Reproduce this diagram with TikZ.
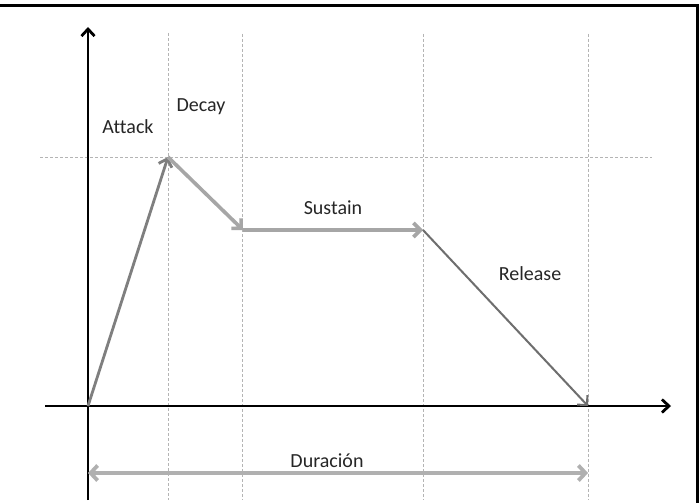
\documentclass[tikz,border=0pt]{standalone}
\usepackage{fontspec}
\setmainfont{Carlito}[Ligatures=NoCommon]
\usetikzlibrary{arrows.meta}
\definecolor{gridc}{HTML}{B4B4B4}
\definecolor{attc}{HTML}{7F7F7F}
\definecolor{decc}{HTML}{A6A6A6}
\definecolor{relc}{HTML}{6E6E6E}
\definecolor{durc}{HTML}{B0B0B0}
\begin{document}
\begin{tikzpicture}[x=1pt,y=-1pt,
  gridline/.style={draw=gridc,line width=0.8pt,dash pattern=on 3pt off 2pt},
  axis/.style={draw=black,line width=2.8pt,-{Straight Barb[length=7pt,width=13pt,line width=2.8pt]}},
  seg/.style={line width=#1,-{Straight Barb[length=7pt,width=14pt]}},
  lbl/.style={font=\fontsize{20}{21}\selectfont,text=black!85,inner sep=0pt}]
\useasboundingbox (0,0) rectangle (700,503);
\fill[white] (0,0) rectangle (700,503);
% frame
\draw[line width=3pt] (0,6) -- (697.5,6) -- (697.5,503);
% coordinates
\coordinate (O) at (88,406);
\coordinate (P) at (168,157);
\coordinate (D) at (243,230);
\coordinate (S) at (423,230);
\coordinate (R) at (588,406);
\coordinate (yb) at (88,500);
\coordinate (yt) at (88,27);
\coordinate (xl) at (45,406);
\coordinate (xr) at (671,406);
\coordinate (dl) at (88,473);
\coordinate (dr) at (588,473);
% grid
\draw[gridline] (168,33) -- (168,500);
\draw[gridline] (242,34) -- (242,500);
\draw[gridline] (423,34) -- (423,500);
\draw[gridline] (588,34) -- (588,500);
\draw[gridline] (40,157) -- (652,157);
% axes
\draw[axis] (yb) -- (yt);
\draw[axis] (xl) -- (xr);
% envelope
\draw[attc,seg=2.8pt] (O) -- (P);
\draw[decc,seg=3.6pt] (P) -- (D);
\draw[decc,seg=3.6pt] (D) -- (S);
\draw[relc,seg=2pt] (S) -- (R);
\draw[durc,line width=3.8pt,{Straight Barb[length=7pt,width=15pt]}-{Straight Barb[length=7pt,width=15pt]}] (dl) -- (dr);
% labels
\node[lbl] (att) at (128,127) {Attack};
\node[lbl] (dec) at (201,107) {Decay};
\node[lbl] (sus) at (333,208) {Sustain};
\node[lbl] (rel) at (530,274) {Release};
\node[lbl] (dur) at (327,461) {Duración};
\end{tikzpicture}
\end{document}
